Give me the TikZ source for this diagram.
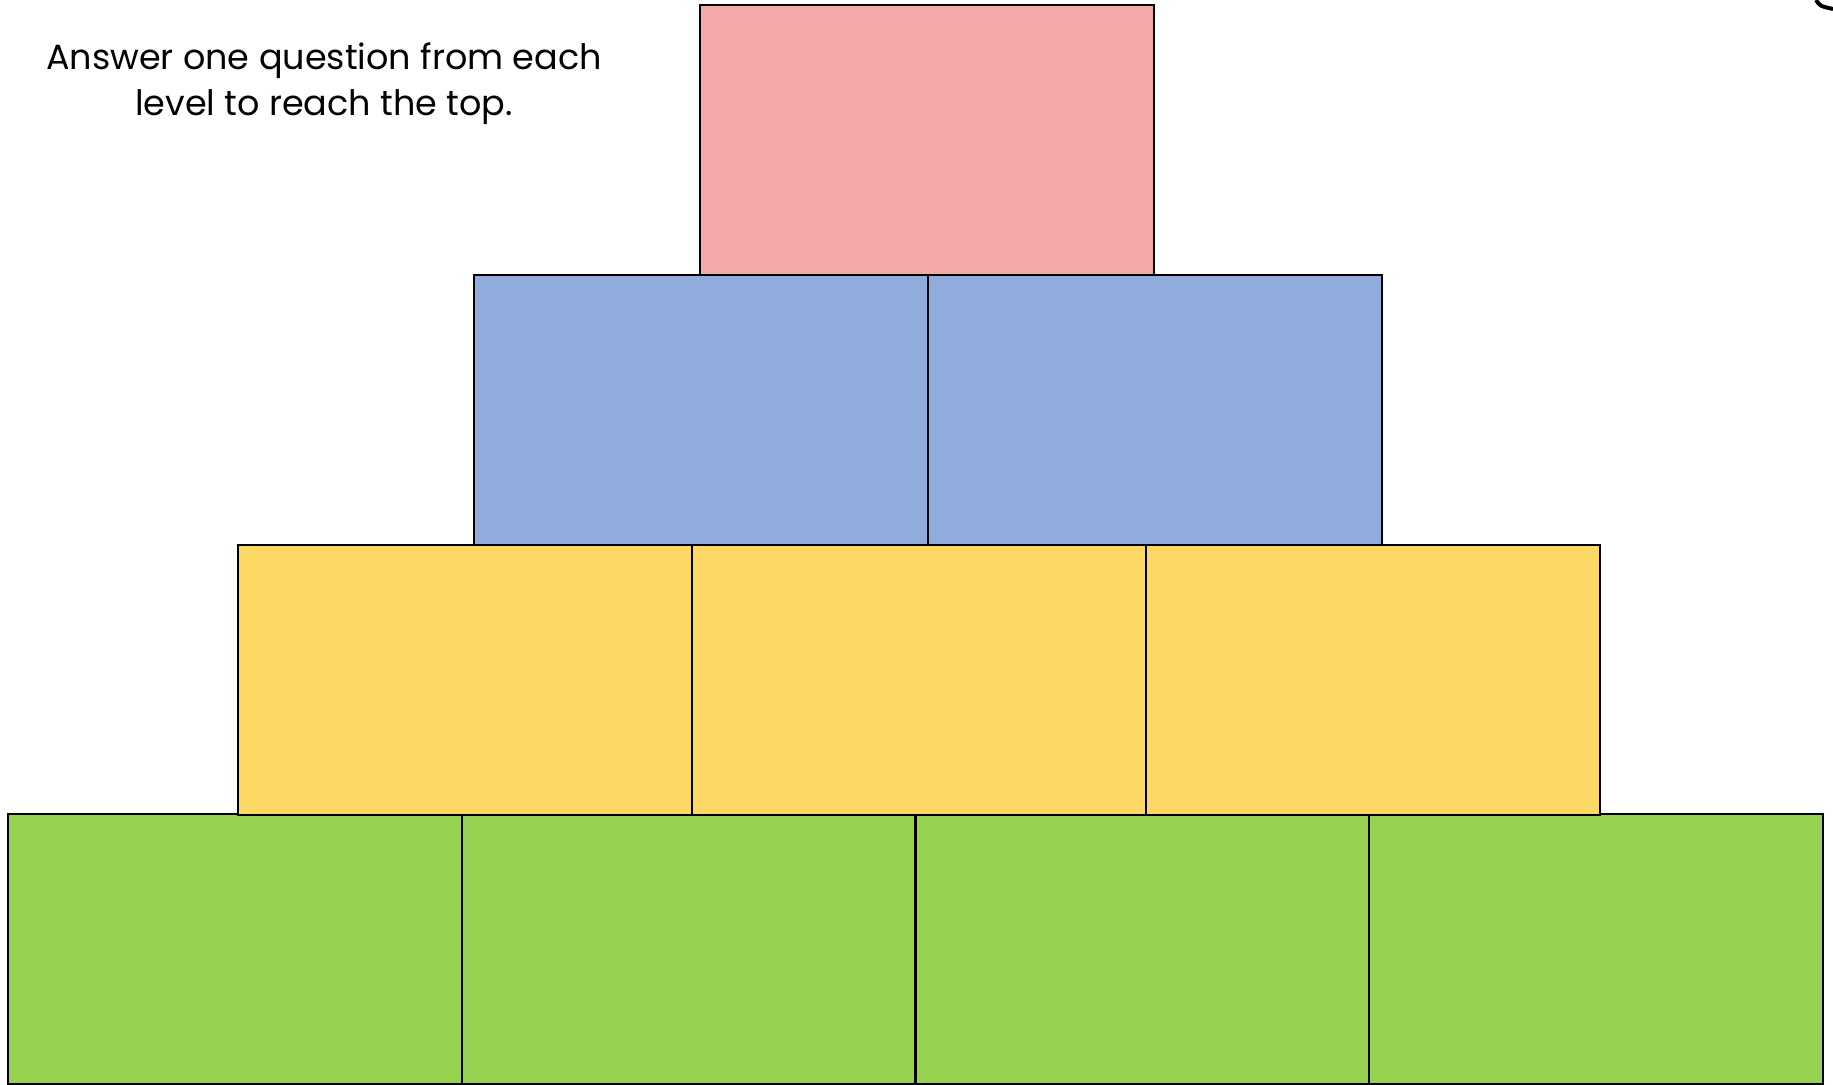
\documentclass[tikz,border=0pt]{standalone}
\usepackage{fontspec}
\setmainfont{Poppins}
\definecolor{pinkbox}{HTML}{F5A9A9}
\definecolor{bluebox}{HTML}{8FACDD}
\definecolor{yellowbox}{HTML}{FDD865}
\definecolor{greenbox}{HTML}{94D250}
\begin{document}
\begin{tikzpicture}[x=0.5pt,y=-0.5pt,
  brick/.style={draw=black,line width=1.3pt,minimum width=227pt,minimum height=135pt,inner sep=0pt,outer sep=0pt,anchor=north west},
  pink/.style={brick,fill=pinkbox},
  blue/.style={brick,fill=bluebox},
  yellow/.style={brick,fill=yellowbox},
  green/.style={brick,fill=greenbox}]
\useasboundingbox (0,0) rectangle (1833,1084);
\fill[white] (0,0) rectangle (1833,1084);
% bottom row
\node[green] (g1) at (8,814) {};
\node[green] (g2) at (462,814) {};
\node[green] (g3) at (915.5,814) {};
\node[green] (g4) at (1369,814) {};
% yellow row
\node[yellow] (y1) at (238,545) {};
\node[yellow] (y2) at (692,545) {};
\node[yellow] (y3) at (1146,545) {};
% blue row
\node[blue] (b1) at (474,275) {};
\node[blue] (b2) at (928,275) {};
% top
\node[pink] (p1) at (700,5) {};
% text
\node[font=\fontsize{17.5pt}{23pt}\selectfont,align=center] (t) at (324,84)
  {Answer one question from each\\level to reach the top.};
% partial arc in corner
\coordinate (a0) at (1816,0);
\coordinate (a1) at (1833,9);
\draw[line width=2pt] (a0) .. controls (1820,6) .. (a1);
\end{tikzpicture}
\end{document}
